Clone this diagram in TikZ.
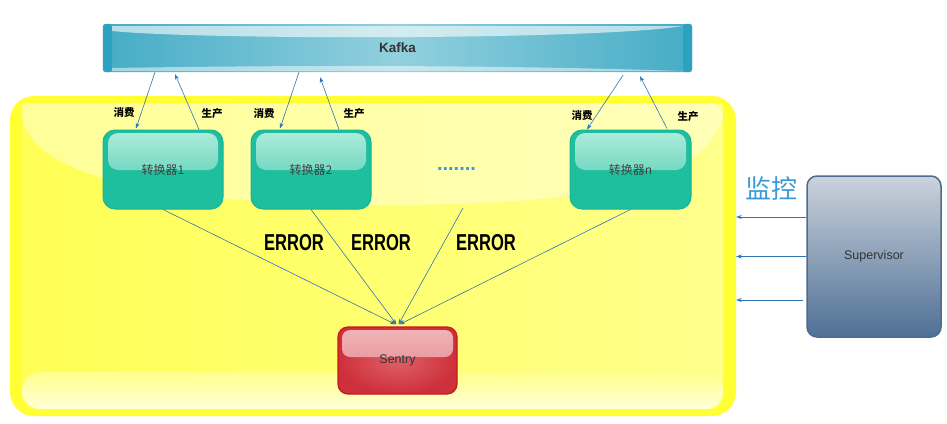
\documentclass[tikz,border=0pt]{standalone}
\usepackage{fontspec}
\setmainfont{Liberation Sans}
\newfontfamily\cjk{Noto Sans CJK SC}
\newfontfamily\narrowsf[FakeStretch=0.72]{Liberation Sans}
\usetikzlibrary{arrows.meta}
\definecolor{kafkaedge}{RGB}{69, 172, 198}
\definecolor{kafkamid}{RGB}{146, 208, 222}
\definecolor{kafkacap}{RGB}{45, 162, 192}
\definecolor{rimyellow}{RGB}{255, 255, 51}
\definecolor{fillyellow}{RGB}{255, 255, 85}
\definecolor{paleyellow}{RGB}{255, 255, 140}
\definecolor{creamyellow}{RGB}{255, 255, 215}
\definecolor{tealfill}{RGB}{29, 191, 158}
\definecolor{tealline}{RGB}{26, 180, 148}
\definecolor{tealgloss}{RGB}{176, 236, 221}
\definecolor{tealglossend}{RGB}{60, 199, 168}
\definecolor{sentrydark}{RGB}{205, 48, 58}
\definecolor{sentrylight}{RGB}{224, 96, 102}
\definecolor{sentryline}{RGB}{200, 26, 26}
\definecolor{sentrygloss}{RGB}{240, 182, 186}
\definecolor{sentryglossend}{RGB}{226, 126, 132}
\definecolor{supertop}{RGB}{203, 210, 220}
\definecolor{supermid}{RGB}{84, 116, 154}
\definecolor{superbottom}{RGB}{79, 112, 149}
\definecolor{superline}{RGB}{77, 107, 144}
\definecolor{arrowblue}{RGB}{46, 117, 182}
\definecolor{monitorblue}{RGB}{58, 154, 217}
\definecolor{textgray}{RGB}{64, 64, 64}
\definecolor{darkgray}{RGB}{51, 51, 51}

\begin{document}
\begin{tikzpicture}[
        x=1pt, y=-1pt,
        flow/.style={draw=arrowblue, line width=0.6pt,
            -{Stealth[length=5.5pt,width=4pt]}},
        pool/.style={fill=rimyellow, rounded corners=24pt, inner sep=0pt,
            minimum width=726pt, minimum height=320pt},
        bar/.style={left color=kafkaedge, right color=kafkaedge,
            middle color=kafkamid, rounded corners=3pt, inner sep=0pt,
            minimum width=589pt, minimum height=48pt,
            font=\fontsize{13.5}{16}\selectfont\bfseries, text=darkgray},
        converter/.style={fill=tealfill, draw=tealline, line width=1pt,
            rounded corners=12pt, minimum width=120pt, minimum height=79pt,
            font=\cjk\fontsize{12}{14}\selectfont, text=textgray,
            path picture={\shade[top color=tealgloss, bottom color=tealglossend,
                rounded corners=10pt]
                ([xshift=5pt,yshift=-3pt]path picture bounding box.north west)
                rectangle
                ([xshift=-5pt,yshift=-40pt]path picture bounding box.north east);}},
        sentrybox/.style={inner color=sentrylight, outer color=sentrydark,
            draw=sentryline, line width=1.2pt, rounded corners=10pt,
            minimum width=119pt, minimum height=67pt,
            font=\fontsize{12.5}{14}\selectfont, text=darkgray,
            path picture={\shade[top color=sentrygloss, bottom color=sentryglossend,
                rounded corners=8pt]
                ([xshift=4pt,yshift=-3pt]path picture bounding box.north west)
                rectangle
                ([xshift=-4pt,yshift=-30pt]path picture bounding box.north east);}},
        monitor/.style={top color=supertop, middle color=supermid,
            bottom color=superbottom, draw=superline, line width=1.5pt,
            rounded corners=10pt, minimum width=134pt, minimum height=161pt,
            font=\fontsize{12.5}{14}\selectfont, text=darkgray},
        tag/.style={font=\cjk\fontsize{10.5}{12}\selectfont\bfseries, inner sep=0pt},
        errtag/.style={font=\narrowsf\fontsize{23}{26}\selectfont\bfseries, inner sep=0pt}
    ]
    \useasboundingbox (0,0) rectangle (947,423);

    % yellow area with its gloss
    \node[pool] (pool) at (373,256) {};
    \shade[left color=fillyellow, right color=paleyellow, rounded corners=14pt]
        (22,103) rectangle (723,409);
    \fill[white, opacity=0.4] (22,115) .. controls (30,185) and (200,205) .. (380,205)
        .. controls (590,205) and (705,185) .. (723,115) -- (723,103) -- (22,103) -- cycle;
    \shade[top color=paleyellow, bottom color=creamyellow, rounded corners=18pt]
        (22,372) rectangle (723,409);

    % kafka bar
    \node[bar] (kafka) at (397.5,48) {Kafka};
    \fill[kafkacap, rounded corners=3pt] (kafka.north west) rectangle ([xshift=9pt]kafka.south west);
    \fill[kafkacap, rounded corners=3pt] ([xshift=-9pt]kafka.north east) rectangle (kafka.south east);
    \fill[white, opacity=0.6] (112,26) -- (683,26) .. controls (600,40) and (200,40) .. (112,31) -- cycle;
    \fill[white, opacity=0.5] (112,71) -- (683,71) .. controls (500,65) and (300,65) .. (112,68) -- cycle;

    \node[converter] (conv1) at (163,169.5) {转换器1};
    \node[converter] (conv2) at (311,169.5) {转换器2};
    \node[converter, minimum width=121pt] (convn) at (630.5,169.5) {转换器n};
    \node[font=\fontsize{20}{20}\selectfont\bfseries, text=monitorblue, inner sep=0pt]
        (dots) at (456.5,169) {.......};
    \coordinate (gap) at (463,208);

    \node[sentrybox] (sentry) at (397.5,360.5) {Sentry};
    \node[monitor] (super) at (874,256.5) {Supervisor};
    \node[font=\cjk\fontsize{26}{28}\selectfont, text=monitorblue] (watch) at (771,188) {监控};

    % consume / produce
    \draw[flow] ([xshift=-242.5pt]kafka.south) -- ([xshift=-27pt,yshift=1pt]conv1.north);
    \draw[flow] ([xshift=36pt]conv1.north) -- ([xshift=-222.5pt,yshift=-2pt]kafka.south);
    \draw[flow] ([xshift=-98.5pt]kafka.south) -- ([xshift=-31pt,yshift=1pt]conv2.north);
    \draw[flow] ([xshift=28pt]conv2.north) -- ([xshift=-77.5pt,yshift=-5pt]kafka.south);
    \draw[flow] ([xshift=225.5pt,yshift=-3pt]kafka.south) -- ([xshift=-43.5pt]convn.north);
    \draw[flow] ([xshift=36.5pt,yshift=1pt]convn.north) -- ([xshift=242.5pt,yshift=-4pt]kafka.south);
    \node[tag] (use1) at (124,113) {消费};
    \node[tag] (make1) at (212,114) {生产};
    \node[tag] (use2) at (264,114) {消费};
    \node[tag] (make2) at (354,114) {生产};
    \node[tag] (usen) at (582,116) {消费};
    \node[tag] (maken) at (688,117) {生产};

    % errors to sentry
    \draw[flow] (conv1.south) -- ([xshift=-2pt,yshift=2pt]sentry.north);
    \draw[flow] (conv2.south) -- ([xshift=-1pt,yshift=2pt]sentry.north);
    \draw[flow] (gap) -- ([xshift=1pt,yshift=2pt]sentry.north);
    \draw[flow] (convn.south) -- ([xshift=2pt,yshift=2pt]sentry.north);
    \node[errtag] (err1) at (294,243) {ERROR};
    \node[errtag] (err2) at (381,243) {ERROR};
    \node[errtag] (err3) at (486,243) {ERROR};

    % supervisor watching
    \draw[flow] ([yshift=39.5pt]super.west) coordinate (w1) -- (w1 -| pool.east);
    \draw[flow] (super.west) -- (super.west -| pool.east);
    \draw[flow] ([xshift=-3pt,yshift=-43.5pt]super.west) coordinate (w3) -- (w3 -| pool.east);
\end{tikzpicture}
\end{document}
